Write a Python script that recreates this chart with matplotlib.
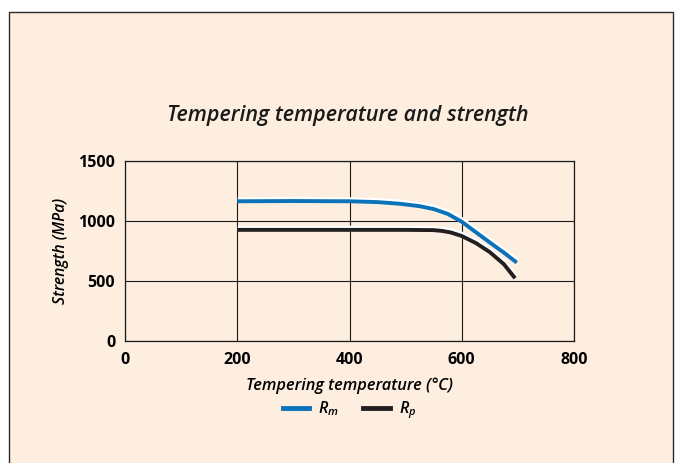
import matplotlib
matplotlib.use("Agg")
import matplotlib.pyplot as plt
import matplotlib.patheffects as pe
from matplotlib.patches import Rectangle
from matplotlib.lines import Line2D

# Data
rm_temp = [200, 300, 400, 450, 490, 525, 550, 575, 600, 625, 650, 675, 698]
rm_val = [1165, 1167, 1165, 1158, 1144, 1124, 1100, 1060, 995, 908, 822, 738, 655]
rp_temp = [200, 300, 400, 500, 550, 565, 580, 600, 625, 650, 675, 695]
rp_val = [927, 927, 927, 927, 925, 918, 906, 876, 818, 742, 642, 525]
x_ticks = [0, 200, 400, 600, 800]
y_ticks = [0, 500, 1000, 1500]
title = "Tempering temperature and strength"
xlabel = "Tempering temperature (°C)"
ylabel = "Strength (MPa)"

BG = "#fdeee0"
BLUE = "#0a72b8"
BLACK = "#231f20"
FONT = ["Open Sans", "DejaVu Sans"]

fig = plt.figure(figsize=(6.75, 4.63), dpi=100)
fig.patch.set_facecolor("white")
# framed panel
fig.patches.append(Rectangle((9 / 675, -0.01), (673 - 9) / 675, (463 - 12) / 463 + 0.01,
                             transform=fig.transFigure, facecolor=BG,
                             edgecolor="#2b2b2b", linewidth=1.0, zorder=-1))

ax = fig.add_axes([125 / 675, 1 - 341.3 / 463, (574 - 125) / 675, (341.3 - 161) / 463])
ax.set_facecolor(BG)
ax.set_xlim(0, 800)
ax.set_ylim(0, 1500)
ax.set_xticks(x_ticks)
ax.set_yticks(y_ticks)
ax.set_xticklabels([str(v) for v in x_ticks], fontfamily=FONT, fontweight="bold", fontsize=11.5)
ax.set_yticklabels([str(v) for v in y_ticks], fontfamily=FONT, fontweight="bold", fontsize=11.5)
ax.tick_params(length=0)
ax.tick_params(axis="x", pad=7.5)
ax.tick_params(axis="y", pad=7)
ax.grid(True, color="#1a1a1a", linewidth=0.8)
ax.set_axisbelow(True)
for s in ax.spines.values():
    s.set_color("#1a1a1a")
    s.set_linewidth(0.9)

effects = [pe.Stroke(linewidth=4.2, foreground="white", offset=(0.4, 0.9)), pe.Normal()]
ax.plot(rm_temp, rm_val, color=BLUE, linewidth=2.8, solid_capstyle="butt",
        path_effects=effects, zorder=3)
ax.plot(rp_temp, rp_val, color=BLACK, linewidth=2.8, solid_capstyle="butt",
        path_effects=effects, zorder=3)

ax.set_xlabel(xlabel, fontfamily=FONT, fontweight="semibold", style="italic",
              fontsize=11.8, labelpad=7)
ax.set_ylabel(ylabel, fontfamily=FONT, fontweight="semibold", style="italic",
              fontsize=11.3, labelpad=7)

fig.text(0.515, 1 - 115 / 463, title, ha="center", va="center", fontfamily=FONT,
         fontweight="semibold", style="italic", fontsize=15.5, color="#1a1a1a")

handles = [Line2D([], [], color=BLUE, linewidth=3.5),
           Line2D([], [], color=BLACK, linewidth=3.5)]
leg = fig.legend(handles, ["R$_{\\mathregular{m}}$", "R$_{\\mathregular{p}}$"],
                 loc="center", bbox_to_anchor=(0.518, 1 - 410 / 463), ncol=2,
                 frameon=False, handlelength=1.65, handletextpad=0.6, columnspacing=1.5,
                 prop={"family": FONT, "weight": "semibold", "style": "italic", "size": 11.5})

fig.savefig("out.png", dpi=100, facecolor=fig.get_facecolor())
